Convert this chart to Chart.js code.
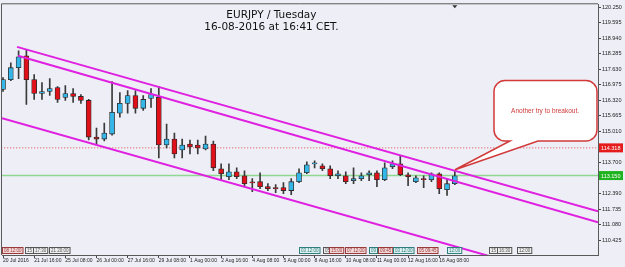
<!DOCTYPE html>
<html><head><meta charset="utf-8">
<script src="https://cdn.jsdelivr.net/npm/chart.js@4.4.0/dist/chart.umd.min.js"></script>
<style>html,body{margin:0;padding:0;background:#EEEEF7;overflow:hidden}</style>
</head><body>
<canvas id="c" width="625" height="267"></canvas>
<script>
// ---- data ----
const dateLabels = ["20 Jul 2016","21 Jul 16:00","25 Jul 08:00","26 Jul 00:00","27 Jul 16:00","29 Jul 08:00","1 Aug 00:00","2 Aug 16:00","4 Aug 08:00","5 Aug 00:00","8 Aug 16:00","10 Aug 08:00","11 Aug 00:00","12 Aug 16:00","16 Aug 08:00"];
const dateLabelIdx = [0,4,8,12,16,20,24,28,32,36,40,44,48,52,56];

const opens  = [116.780,117.198,117.700,118.202,117.198,116.613,116.697,116.864,116.446,116.613,116.488,116.320,114.773,114.690,114.899,115.777,116.195,116.529,115.986,116.404,116.446,114.439,114.690,114.230,114.481,114.439,114.271,114.481,113.436,113.101,113.310,113.143,112.850,112.892,112.683,112.610,112.641,112.516,112.892,113.268,113.645,113.561,113.436,113.143,113.143,112.934,113.018,113.185,113.268,112.976,113.519,113.645,113.185,112.892,113.018,112.976,113.227,112.557,112.808];
const highs  = [117.282,117.909,118.410,118.452,117.407,117.073,117.240,116.906,116.947,116.822,116.571,116.362,115.150,115.359,117.115,116.655,116.738,116.738,116.529,116.822,116.906,115.317,114.941,114.690,114.648,114.648,114.815,114.606,113.645,113.645,113.477,113.352,113.018,113.268,112.808,112.767,112.850,113.018,113.436,113.728,113.770,113.645,113.561,113.352,113.310,113.477,113.268,113.352,113.352,113.686,113.770,113.979,113.268,113.143,113.143,113.268,113.268,113.018,113.352];
const lows   = [116.697,117.156,117.240,116.153,116.362,116.362,116.529,116.237,116.320,116.237,116.195,114.648,114.439,114.606,114.857,115.610,115.777,115.777,115.902,116.028,113.895,114.313,113.895,113.895,114.062,114.062,114.230,113.352,112.934,112.976,113.018,112.725,112.474,112.599,112.516,112.432,112.390,112.348,112.850,113.227,113.477,113.352,113.018,113.018,112.808,112.808,112.934,112.934,112.683,112.934,113.436,113.143,112.725,112.850,112.641,112.892,112.390,112.307,112.767];
const closes = [117.198,117.700,118.160,117.198,116.613,116.697,116.822,116.362,116.613,116.488,116.320,114.773,114.690,114.941,115.819,116.195,116.529,115.986,116.362,116.571,114.439,114.690,114.062,114.439,114.355,114.313,114.481,113.477,113.227,113.310,113.101,112.808,112.840,112.683,112.599,112.600,112.516,112.892,113.268,113.603,113.655,113.436,113.143,113.227,112.892,113.018,113.143,113.268,112.976,113.477,113.645,113.185,113.101,113.059,112.976,113.227,112.599,112.808,113.143];

const yTickValues = [110.425,111.080,111.735,112.390,113.045,113.700,114.355,115.010,115.665,116.320,116.975,117.630,118.285,118.940,119.595,120.250];

// channel lines: [index, price] endpoints
const upperLine  = [[1.80,118.578],[76.38,111.638]];
const middleLine = [[1.93,118.202],[76.38,111.178]];
const lowerLine  = [[-0.13,115.568],[62.5,109.746]];
const askLevel = 114.318;
const bidLevel = 113.150;

const titleLines = ["EURJPY / Tuesday","16-08-2016 at 16:41 CET."];
const noteText = "Another try to breakout.";
// bubble in data coords: left idx, right idx, top price, bottom price; tail tip and base
const noteBox = {l:63.03,r:76.25,t:117.156,b:114.606,tipI:58.02,tipP:113.394,b1:65.08,b2:68.68,textI:69.58,textP:115.86};

const eventIdx   = [-0.13,2.82,3.85,5.9,38.0,41.08,41.85,43.9,47.0,48.14,50.06,53.1,57.0,62.4,63.4,66.0];
const eventText  = ["08 12:00","15","17:30","21 20:00","03 12:00","05","15:00","07 12:00","09","09:45","03 12:00","05 09:45","12:00","15","16:30","12:00"];
const eventKind  = ["r","g","g","g","t","g","r","r","t","r","t","r","t","g","g","g"];

// ---- build ----
const n = opens.length;
const idx = Array.from({length:n},(_,i)=>i);
const BULL='#35B6E8', BEAR='#E0101A';
const bodies = idx.map(i=>({x:i,y:[Math.min(opens[i],closes[i]),Math.max(opens[i],closes[i])]}));
const wicks = idx.map(i=>({x:i,y:[lows[i],highs[i]]}));
const bodyColors = idx.map(i=>closes[i]>=opens[i]?BULL:BEAR);
const labelMap = {}; dateLabelIdx.forEach((v,k)=>labelMap[v]=dateLabels[k]);
const seg = a=>a.map(p=>({x:p[0],y:p[1]}));

const bgPlugin = {
  id:'bg',
  beforeDraw(chart){
    const c=chart.ctx; c.save(); c.fillStyle='#EEEEF7'; c.fillRect(0,0,chart.width,chart.height); c.restore();
  }
};

const annoPlugin = {
  id:'anno',
  afterDatasetsDraw(chart){
    const c=chart.ctx, xs=chart.scales.x, ys=chart.scales.y, a=chart.chartArea;
    c.save();
    // title
    c.fillStyle='#111'; c.font='10.5px "DejaVu Sans"'; c.textAlign='center'; c.textBaseline='alphabetic';
    const tx = a.left + (a.right-a.left)*0.452;
    c.fillText(titleLines[0], tx, 18);
    c.fillText(titleLines[1], tx, 30);
    // bubble
    const l=xs.getPixelForValue(noteBox.l), r=xs.getPixelForValue(noteBox.r), t=ys.getPixelForValue(noteBox.t), b=ys.getPixelForValue(noteBox.b);
    const R=11, tipx=xs.getPixelForValue(noteBox.tipI), tipy=ys.getPixelForValue(noteBox.tipP);
    const b1=xs.getPixelForValue(noteBox.b1), b2=xs.getPixelForValue(noteBox.b2);
    c.beginPath();
    c.moveTo(l+R,t); c.lineTo(r-R,t); c.arcTo(r,t,r,t+R,R); c.lineTo(r,b-R); c.arcTo(r,b,r-R,b,R);
    c.lineTo(b2,b); c.lineTo(tipx,tipy); c.lineTo(b1,b); c.lineTo(l+R,b); c.arcTo(l,b,l,b-R,R); c.lineTo(l,t+R); c.arcTo(l,t,l+R,t,R);
    c.closePath();
    c.fillStyle='#FFFFFF'; c.fill();
    c.strokeStyle='#D23A3A'; c.lineWidth=1.5; c.stroke();
    c.fillStyle='#D03838'; c.font='6.5px "Liberation Sans"'; c.textAlign='center'; c.textBaseline='middle';
    c.fillText(noteText, xs.getPixelForValue(noteBox.textI), ys.getPixelForValue(noteBox.textP));
    // event boxes
    c.font='4.5px "Liberation Sans"'; c.textAlign='left'; c.textBaseline='middle'; c.lineWidth=1;
    const kc={r:['#F3D8D8','#9A3A3A'],g:['#EEEEF0','#555'],t:['#DDEFEF','#2F7F7F']};
    eventIdx.forEach((v,k)=>{
      const x=Math.round(xs.getPixelForValue(v))+0.5, y=247.5;
      const w=Math.max(6, c.measureText(eventText[k]).width+3);
      c.fillStyle=kc[eventKind[k]][0]; c.fillRect(x,y,w,6);
      c.strokeStyle=kc[eventKind[k]][1]; c.strokeRect(x,y,w,6);
      c.fillStyle=kc[eventKind[k]][1]; c.fillText(eventText[k], x+1.5, y+3.2);
    });
    // shift marker triangle
    const mx = xs.getPixelForValue(n-1);
    c.fillStyle='#333'; c.beginPath(); c.moveTo(mx-2.5,a.top+1); c.lineTo(mx+2.5,a.top+1); c.lineTo(mx,a.top+4); c.closePath(); c.fill();
    c.restore();
  },
  afterDraw(chart){
    const c=chart.ctx, ys=chart.scales.y, a=chart.chartArea;
    c.save();
    // frame
    c.strokeStyle='#5A5A5A'; c.lineWidth=1;
    c.beginPath(); c.moveTo(a.left-0.5,a.bottom); c.lineTo(a.left-0.5,a.top-0.5); c.lineTo(a.right,a.top-0.5); c.stroke();
    // price labels
    c.font='5.5px "Liberation Sans"'; c.textAlign='left'; c.textBaseline='middle';
    [[askLevel,'#E41C1C'],[bidLevel,'#1FB41F']].forEach(([v,col])=>{
      const y=ys.getPixelForValue(v);
      c.fillStyle=col; c.fillRect(a.right+1,y-4.5,24,9);
      c.fillStyle='#FFFFFF'; c.fillText(v.toFixed(3), a.right+3, y+0.5);
    });
    c.restore();
  }
};

new Chart(document.getElementById('c'), {
  type:'bar',
  data:{datasets:[
    {type:'line',data:seg(upperLine),borderColor:'#E020E0',borderWidth:2,pointRadius:0,order:0},
    {type:'line',data:seg(middleLine),borderColor:'#E020E0',borderWidth:2,pointRadius:0,order:0},
    {type:'line',data:seg(lowerLine),borderColor:'#E020E0',borderWidth:2,pointRadius:0,order:0},
    {type:'bar',data:bodies,backgroundColor:bodyColors,borderColor:'#2A2A2A',borderWidth:0.8,borderSkipped:false,barThickness:5,grouped:false,order:1,minBarLength:1},
    {type:'bar',data:wicks,backgroundColor:'#3A3A3A',borderWidth:0,barThickness:1,grouped:false,order:2},
    {type:'line',data:[{x:-1,y:askLevel},{x:80,y:askLevel}],borderColor:'#E04848',borderWidth:1,borderDash:[1,2],pointRadius:0,order:3},
    {type:'line',data:[{x:-1,y:bidLevel},{x:80,y:bidLevel}],borderColor:'#8FD88F',borderWidth:1.5,pointRadius:0,order:3}
  ]},
  options:{
    responsive:false, animation:false, devicePixelRatio:1,
    layout:{padding:{left:2,top:2,right:0,bottom:0}},
    plugins:{legend:{display:false},tooltip:{enabled:false},title:{display:false}},
    scales:{
      x:{type:'linear',min:-0.13,max:76.38,offset:false,position:'bottom',
        grid:{display:true,drawOnChartArea:false,drawTicks:true,tickLength:3,color:'#444',offset:false},
        border:{display:true,color:'#5A5A5A'},
        ticks:{align:'start',autoSkip:false,maxRotation:0,padding:0,color:'#222',font:{size:5,family:'Liberation Sans'},callback:v=>labelMap[v]??''},
        afterBuildTicks:s=>{s.ticks=dateLabelIdx.map(v=>({value:v}));},
        afterFit:s=>{s.height=12;}
      },
      y:{type:'linear',position:'right',min:109.798,max:120.375,
        grid:{drawOnChartArea:false,tickLength:3,color:'#444'},
        border:{display:true,color:'#5A5A5A'},
        ticks:{padding:1,color:'#222',font:{size:5.5,family:'Liberation Sans'},callback:v=>Number(v).toFixed(3)},
        afterBuildTicks:s=>{s.ticks=yTickValues.map(v=>({value:v}));},
        afterFit:s=>{s.width=27;}
      }
    }
  },
  plugins:[bgPlugin,annoPlugin]
});
</script>
</body></html>
